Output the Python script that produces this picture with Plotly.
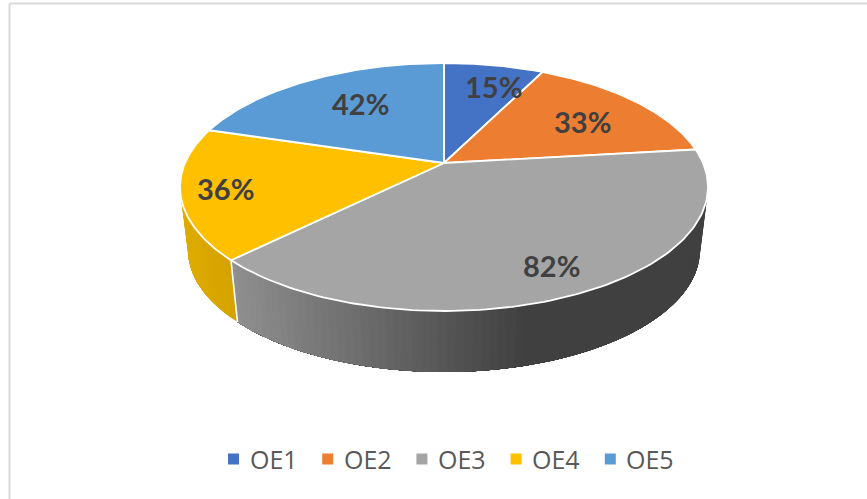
import numpy as np
import plotly.graph_objects as go

categories = ["OE1", "OE2", "OE3", "OE4", "OE5"]
values = [15, 33, 82, 36, 42]
tick_labels = ["15%", "33%", "82%", "36%", "42%"]
colors = ["#4472C4", "#ED7D31", "#A5A5A5", "#FFC000", "#5B9BD5"]
label_radius = [0.80, 0.74, 0.77, 0.83, 0.70]
label_shift = [(9, -3), (-3, -2), (1, -3), (0, -3), (11, -9)]

CX, CY, RX, RY = 444, 187, 264, 124
APEX_Y = 163
BCY, BRX, BRY = 250, 256, 122
PERSP, PERSP2 = 11.0, -1.0


def project(deg):
    """True pie angle (clockwise from top) to the drawn ellipse's angle."""
    deg = np.asarray(deg, dtype=float)
    r = np.radians(deg)
    return np.radians(deg - PERSP * np.sin(r) - PERSP2 * np.sin(2 * r))


def top_xy(deg, r=1.0):
    t = project(deg)
    return CX + RX * r * np.sin(t), CY - RY * r * np.cos(t)


def base_xy(deg):
    t = project(deg)
    return CX + BRX * np.sin(t), BCY - BRY * np.cos(t)


def mix(c1, c2, f):
    return "rgb(%d,%d,%d)" % tuple(round(a + (b - a) * f) for a, b in zip(c1, c2))


edges = 360 * np.concatenate([[0], np.cumsum(values)]) / sum(values)
fig = go.Figure()


def wall(a0, a1, shade):
    """Side wall from angle a0 to a1; later pieces paint over earlier ones."""
    arc = np.linspace(a0, a1, 60)
    x1, y1 = top_xy(arc)
    x2, y2 = base_xy(arc[::-1])
    fig.add_trace(go.Scatter(x=np.concatenate([x1, x2]), y=np.concatenate([y1, y2]),
                             mode="lines", fill="toself", fillcolor=shade,
                             line=dict(width=0), hoverinfo="skip", showlegend=False))


# side wall of OE3, shaded dark at the right to lighter at the left
grey_light, grey_dark = (143, 143, 143), (64, 64, 64)
a_right = 90 + PERSP
for a0 in np.linspace(a_right, edges[3], 80)[:-1]:
    f = np.clip((float(top_xy(a0)[0]) - 235) / (530 - 235), 0, 1)
    wall(a0, edges[3], mix(grey_light, grey_dark, f))

# side wall of OE4
a_left = 270 - PERSP
for a0 in np.linspace(edges[3], a_left, 16)[:-1]:
    f = np.clip((float(top_xy(a0)[0]) - 183) / 50, 0, 1)
    wall(a0, a_left, mix((222, 172, 0), (213, 162, 0), f))

# white seam between the OE3 and OE4 walls
sx0, sy0 = top_xy(edges[3])
sx1, sy1 = base_xy(edges[3])
fig.add_trace(go.Scatter(x=[float(sx0), float(sx1)], y=[float(sy0), float(sy1)], mode="lines",
                         line=dict(color="white", width=1.6), hoverinfo="skip", showlegend=False))

# top face slices, all meeting at the perspective apex
for i, name in enumerate(categories):
    arc = np.linspace(edges[i], edges[i + 1], 120)
    ax, ay = top_xy(arc)
    fig.add_trace(go.Scatter(x=np.concatenate([[CX], ax, [CX]]),
                             y=np.concatenate([[APEX_Y], ay, [APEX_Y]]),
                             mode="lines", fill="toself", fillcolor=colors[i],
                             line=dict(color="white", width=1.8), hoverinfo="skip",
                             showlegend=False))

# percent labels
for i, text in enumerate(tick_labels):
    mid = (edges[i] + edges[i + 1]) / 2
    lx, ly = top_xy(mid, label_radius[i])
    fig.add_annotation(x=float(lx) + label_shift[i][0], y=float(ly) + label_shift[i][1], text=text,
                       showarrow=False, xanchor="center", yanchor="middle",
                       font=dict(family="Lato", size=29, color="#404040", weight="bold"))

# legend row: a square key and a name per category
LEG_X, LEG_Y, LEG_STEP = 233.5, 459, 94.2
for i, name in enumerate(categories):
    kx = LEG_X + LEG_STEP * i
    fig.add_trace(go.Scatter(x=[kx], y=[LEG_Y], mode="markers", hoverinfo="skip", showlegend=False,
                             marker=dict(symbol="square", size=11, color=colors[i])))
    fig.add_annotation(x=kx + 14, y=LEG_Y, text=name, showarrow=False, xanchor="left", yanchor="middle",
                       font=dict(family="Open Sans", size=25, color="#595959"))

# chart frame
fig.add_shape(type="line", x0=9.5, x1=9.5, y0=3.5, y1=499, line=dict(color="#D9D9D9", width=2))
fig.add_shape(type="line", x0=9.5, x1=867, y0=3.5, y1=3.5, line=dict(color="#D9D9D9", width=2))

fig.update_layout(
    width=867, height=499, margin=dict(l=0, r=0, t=0, b=0),
    paper_bgcolor="white", plot_bgcolor="white", showlegend=False,
    xaxis=dict(range=[0, 867], visible=False, fixedrange=True),
    yaxis=dict(range=[499, 0], visible=False, fixedrange=True),
)
fig.write_html("out.html", config={"displayModeBar": False},
               post_script="document.body.style.margin='0';document.body.style.overflow='hidden';")
